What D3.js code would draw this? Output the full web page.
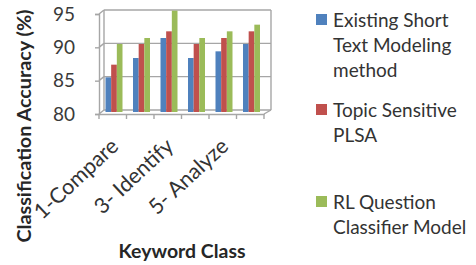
<!DOCTYPE html>
<html>
<head>
<meta charset="utf-8">
<script src="https://cdn.jsdelivr.net/npm/d3@7"></script>
<style>
  body { margin: 0; background: #fff; }
  svg { display: block; font-family: Lato, "DejaVu Sans", sans-serif; }
</style>
</head>
<body>
<div id="target"></div>
<script>
const width = 476;
const height = 265;

// data
const categories = ['c1', 'c2', 'c3', 'c4', 'c5', 'c6'];
const tickLabels = ['1-Compare', '', '3- Identify', '', '5- Analyze', ''];
const seriesNames = ['Existing Short Text Modeling method', 'Topic Sensitive PLSA', 'RL Question Classifier Model'];
const legendLines = [['Existing Short', 'Text Modeling', 'method'], ['Topic Sensitive', 'PLSA'], ['RL Question', 'Classifier Model']];
const existing = [85.2, 88.1, 91.1, 88.1, 89.1, 90.2];
const plsa = [87.1, 90.2, 92.1, 90.2, 91.1, 92.1];
const rlq = [90.2, 91.1, 95.2, 91.1, 92.1, 93.1];
const yTicks = [80, 85, 90, 95];
const colors = ['#4F81BD', '#C0504D', '#9BBB59'];

const values = [existing, plsa, rlq];

const svg = d3.select('#target')
  .append('svg')
  .attr('width', width)
  .attr('height', height);

// depth offset of the back wall (pseudo 3d)
const dx = 5;
const dy = -4;

const x = d3.scaleBand()
  .domain(categories)
  .range([99, 264]);

const xSub = d3.scaleBand()
  .domain(d3.range(seriesNames.length))
  .range([6.5, 23.5]);

const y = d3.scaleLinear()
  .domain([80, 95])
  .range([114, 14]);

const grid = '#a6a6a6';

// back wall gridlines
const back = svg.append('g')
  .attr('transform', `translate(${dx},${dy})`);
back.selectAll('.grid')
  .data(yTicks)
  .enter()
  .append('line')
  .attr('x1', 99)
  .attr('x2', 266)
  .attr('y1', (d) => y(d))
  .attr('y2', (d) => y(d))
  .attr('stroke', grid)
  .attr('stroke-width', 1.4);
back.append('line')
  .attr('x1', 99).attr('x2', 99)
  .attr('y1', y(80)).attr('y2', y(95))
  .attr('stroke', grid).attr('stroke-width', 1.4);
back.append('line')
  .attr('x1', 266).attr('x2', 266)
  .attr('y1', y(80)).attr('y2', y(95))
  .attr('stroke', grid).attr('stroke-width', 1.4);

// side connectors
svg.selectAll('.side')
  .data(yTicks)
  .enter()
  .append('line')
  .attr('x1', 99).attr('y1', (d) => y(d))
  .attr('x2', 99 + dx).attr('y2', (d) => y(d) + dy)
  .attr('stroke', grid).attr('stroke-width', 1.4);
svg.append('line')
  .attr('x1', 264).attr('y1', y(80))
  .attr('x2', 266 + dx).attr('y2', y(80) + dy)
  .attr('stroke', grid).attr('stroke-width', 1.4);

// bars
const groups = svg.append('g')
  .selectAll('g')
  .data(categories)
  .enter()
  .append('g')
  .attr('transform', (d) => `translate(${x(d)},0)`);

groups.selectAll('rect')
  .data((d, i) => values.map((s, k) => ({k: k, v: s[i]})))
  .enter()
  .append('rect')
  .attr('x', (d) => xSub(d.k))
  .attr('width', xSub.bandwidth())
  .attr('y', (d) => y(d.v) + dy * 0.5)
  .attr('height', (d) => y(80) - y(d.v))
  .attr('fill', (d) => colors[d.k]);

// front axes
const yAxis = svg.append('g')
  .attr('transform', 'translate(99,0)')
  .call(d3.axisLeft(y).tickValues(yTicks).tickSize(4).tickPadding(20));
const xAxis = svg.append('g')
  .attr('transform', `translate(0,${y(80)})`)
  .call(d3.axisBottom(x).tickSize(0).tickFormat(''));
xAxis.selectAll('.xt')
  .data(d3.range(categories.length + 1))
  .enter()
  .append('line')
  .attr('x1', (i) => 99 + i * x.bandwidth())
  .attr('x2', (i) => 99 + i * x.bandwidth())
  .attr('y1', 0).attr('y2', 5)
  .attr('stroke', grid).attr('stroke-width', 1.4);

svg.selectAll('.domain, .tick line')
  .attr('stroke', grid)
  .attr('stroke-width', 1.4);
yAxis.selectAll('text')
  .attr('font-size', 19)
  .attr('font-family', 'Lato, sans-serif')
  .attr('fill', '#3a3a3a');

// category labels, rotated
svg.append('g')
  .selectAll('text')
  .data(categories)
  .enter()
  .append('text')
  .attr('transform', (d) => `translate(${x(d) + x.bandwidth() / 2 + 7},${y(80) + 34}) rotate(-43)`)
  .attr('text-anchor', 'end')
  .attr('font-size', 21.5)
  .attr('fill', '#333')
  .text((d, i) => tickLabels[i]);

// axis titles
svg.append('text')
  .attr('transform', 'translate(31,126) rotate(-90)')
  .attr('text-anchor', 'middle')
  .attr('font-size', 19)
  .attr('font-weight', 'bold')
  .attr('textLength', 233)
  .attr('lengthAdjust', 'spacingAndGlyphs')
  .attr('fill', '#262626')
  .text('Classification Accuracy (%)');

svg.append('text')
  .attr('x', 182)
  .attr('y', 258)
  .attr('text-anchor', 'middle')
  .attr('font-size', 19)
  .attr('font-weight', 'bold')
  .attr('textLength', 127)
  .attr('lengthAdjust', 'spacingAndGlyphs')
  .attr('fill', '#262626')
  .text('Keyword Class');

// legend
const legendY = [20, 110, 202];
const legend = svg.append('g')
  .selectAll('g')
  .data(seriesNames)
  .enter()
  .append('g')
  .attr('transform', (d, i) => `translate(316,${legendY[i]})`);

legend.append('rect')
  .attr('x', 0)
  .attr('y', -6)
  .attr('width', 11)
  .attr('height', 11)
  .attr('fill', (d, i) => colors[i]);

legend.append('text')
  .attr('x', 17)
  .attr('y', 7)
  .attr('font-size', 19)
  .attr('fill', '#333')
  .selectAll('tspan')
  .data((d, i) => legendLines[i])
  .enter()
  .append('tspan')
  .attr('x', 17)
  .attr('dy', (d, j) => j === 0 ? 0 : 25)
  .text((d) => d);
</script>
</body>
</html>
